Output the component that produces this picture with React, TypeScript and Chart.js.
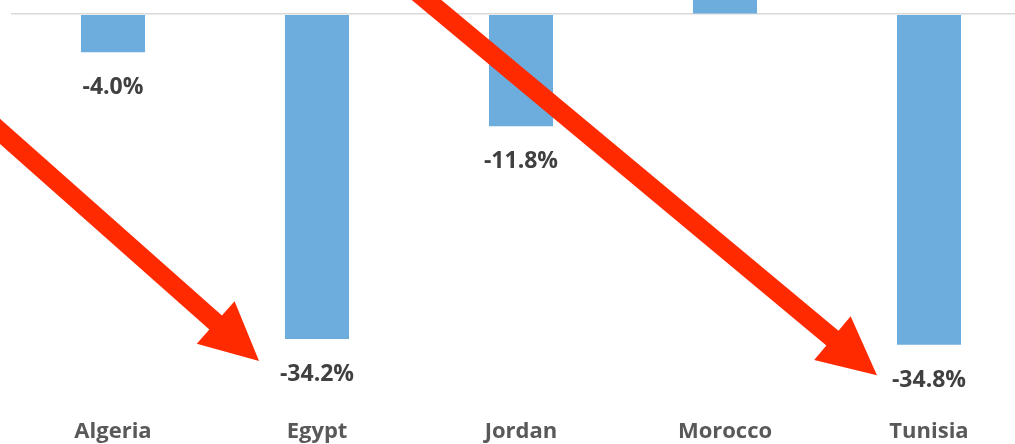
import React, { useEffect, useRef } from "react";
import { Chart, registerables } from "chart.js";

Chart.register(...registerables);

// ---- data ----
const categories = ["Algeria", "Egypt", "Jordan", "Morocco", "Tunisia"];
const changeValues = [-4.0, -34.2, -11.8, 3.0, -34.8];
// annotation arrows, in (category index, % value) coordinates
const arrowStarts = [
  [-0.75, -8.6],
  [1.431, 3.4],
];
const arrowTips = [
  [0.716, -36.5],
  [3.745, -38.0],
];
const yMin = -40.4;
const yMax = 1.5;

const FONT = "'Open Sans', 'DejaVu Sans', sans-serif";

const labelPlugin = {
  id: "valueLabels",
  afterDatasetsDraw(chart: any) {
    const ctx = chart.ctx;
    const meta = chart.getDatasetMeta(0);
    ctx.save();
    ctx.font = `bold 23px ${FONT}`;
    ctx.fillStyle = "#404040";
    ctx.textAlign = "center";
    ctx.textBaseline = "alphabetic";
    meta.data.forEach((bar: any, i: number) => {
      const v = changeValues[i];
      const txt = v.toFixed(1) + "%";
      const y = v < 0 ? bar.y + 42 : bar.y - 12;
      ctx.fillText(txt, bar.x, y);
    });
    ctx.restore();
  },
};

const arrowPlugin = {
  id: "arrows",
  afterDraw(chart: any) {
    const ctx = chart.ctx;
    const xs = chart.scales.x;
    const ys = chart.scales.y;
    const shaft = 19;
    const headLen = 58;
    const headW = 57;
    ctx.save();
    ctx.fillStyle = "#FF2A00";
    arrowStarts.forEach((s, k) => {
      const t = arrowTips[k];
      const x0 = xs.getPixelForValue(s[0]);
      const y0 = ys.getPixelForValue(s[1]);
      const x1 = xs.getPixelForValue(t[0]);
      const y1 = ys.getPixelForValue(t[1]);
      const dx = x1 - x0;
      const dy = y1 - y0;
      const len = Math.hypot(dx, dy);
      const ux = dx / len;
      const uy = dy / len;
      const nx = -uy;
      const ny = ux;
      const bx = x1 - ux * headLen;
      const by = y1 - uy * headLen;
      ctx.beginPath();
      ctx.moveTo(x0 + nx * shaft / 2, y0 + ny * shaft / 2);
      ctx.lineTo(bx + nx * shaft / 2, by + ny * shaft / 2);
      ctx.lineTo(bx + nx * headW / 2, by + ny * headW / 2);
      ctx.lineTo(x1, y1);
      ctx.lineTo(bx - nx * headW / 2, by - ny * headW / 2);
      ctx.lineTo(bx - nx * shaft / 2, by - ny * shaft / 2);
      ctx.lineTo(x0 - nx * shaft / 2, y0 - ny * shaft / 2);
      ctx.closePath();
      ctx.fill();
    });
    ctx.restore();
  },
};

export default function App() {
  const ref = useRef<HTMLCanvasElement | null>(null);

  useEffect(() => {
    document.body.style.margin = "0";
    const canvas = ref.current;
    if (!canvas) return;
    const chart = new Chart(canvas, {
      type: "bar",
      data: {
        labels: categories,
        datasets: [
          {
            data: changeValues,
            backgroundColor: "#6DADDD",
            borderWidth: 0,
            barPercentage: 0.314,
            categoryPercentage: 1,
          },
        ],
      },
      options: {
        animation: false,
        responsive: false,
        maintainAspectRatio: false,
        layout: { padding: { left: 11, right: 0, top: 0, bottom: 0 } },
        plugins: {
          legend: { display: false },
          tooltip: { enabled: false },
        },
        scales: {
          x: {
            grid: { display: false },
            border: { display: false },
            ticks: {
              color: "#595959",
              font: { family: FONT, size: 22, weight: "bold" },
              padding: 13,
            },
            afterFit: (s: any) => {
              s.height = 46;
            },
          },
          y: {
            min: yMin,
            max: yMax,
            afterBuildTicks: (s: any) => {
              s.ticks = [{ value: 0 }];
            },
            ticks: { display: false },
            border: { display: false },
            grid: { color: "#D9D9D9", lineWidth: 1.5, drawTicks: false },
          },
        },
      },
      plugins: [labelPlugin, arrowPlugin],
    });
    return () => chart.destroy();
  }, []);

  return (
    <div style={{ width: 1015, height: 444, overflow: "hidden", position: "relative" }}>
      <canvas ref={ref} width={1031} height={444} style={{ display: "block" }} />
    </div>
  );
}
